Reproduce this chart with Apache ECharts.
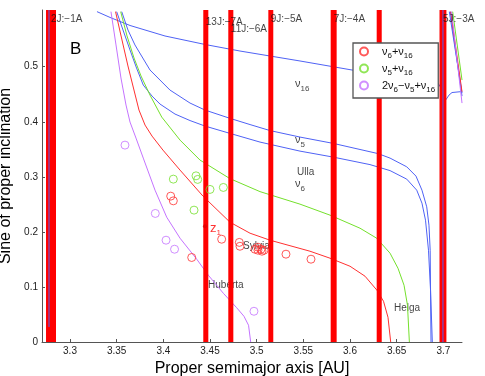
<!DOCTYPE html>
<html>
<head>
<meta charset="utf-8">
<title>Secular resonances</title>
<script src="https://cdn.jsdelivr.net/npm/echarts@6/dist/echarts.min.js"></script>
<style>
  html, body { margin: 0; padding: 0; background: #fff; }
  #mychart { width: 485px; height: 376px; }
</style>
</head>
<body>
<div id="mychart"></div>
<script>
// ---- data ----
var xTicks = [3.3, 3.35, 3.4, 3.45, 3.5, 3.55, 3.6, 3.65, 3.7];
var yTicks = [0, 0.1, 0.2, 0.3, 0.4, 0.5];
var xMin = 3.27, xMax = 3.72, yMax = 0.603;

// mean motion resonances: band edges [AU] and labels
var resLabels = ['2J:\u22121A', '13J:\u22127A', '11J:\u22126A', '9J:\u22125A', '7J:\u22124A', '', '5J:\u22123A'];
var resLo = [3.2743, 3.4428, 3.4696, 3.5125, 3.5793, 3.6286, 3.6959];
var resHi = [3.2850, 3.4482, 3.4750, 3.5178, 3.5857, 3.6340, 3.7033];
var resLabelY = [0.5867, 0.5813, 0.5673, 0.5867, 0.5867, 0, 0.5867];

// secular resonance curves [a, sin i]
var nu16Curve = [[3.3289, 0.600], [3.3429, 0.5895], [3.3643, 0.5749], [3.4018, 0.5558], [3.4446, 0.5404],
  [3.4821, 0.5285], [3.5464, 0.5104], [3.6021, 0.4940], [3.6536, 0.4804], [3.6943, 0.4704],
  [3.6975, 0.4613], [3.7007, 0.4467], [3.7029, 0.4404], [3.7061, 0.4485], [3.7093, 0.4531], [3.7200, 0.4549]];
var nu5Curve = [[3.3554, 0.600], [3.3621, 0.5667], [3.3696, 0.5395], [3.3857, 0.4940], [3.4071, 0.4576],
  [3.4286, 0.4340], [3.4446, 0.4213], [3.4714, 0.4062], [3.4929, 0.3949], [3.5143, 0.3840],
  [3.5464, 0.3722], [3.5821, 0.3607], [3.6300, 0.3422], [3.6429, 0.3340], [3.6608, 0.3182],
  [3.6707, 0.3013], [3.6771, 0.2758], [3.6822, 0.2455], [3.6846, 0.2122], [3.6859, 0.1667], [3.6868, 0]];
var nu6Curve = [[3.3500, 0.600], [3.3568, 0.5667], [3.3643, 0.5304], [3.3713, 0.4976], [3.3785, 0.4667],
  [3.3879, 0.4467], [3.3964, 0.4322], [3.4125, 0.4140], [3.4286, 0.4022], [3.4446, 0.3922],
  [3.4714, 0.3789], [3.5036, 0.3631], [3.5464, 0.3467], [3.5821, 0.3358], [3.6214, 0.3222],
  [3.6429, 0.3113], [3.6608, 0.2958], [3.6715, 0.2758], [3.6771, 0.2522], [3.6809, 0.2213],
  [3.6841, 0.1667], [3.6863, 0.0940], [3.6882, 0]];
var z1Curve = [[3.3488, 0.600], [3.3557, 0.5485], [3.3621, 0.5013], [3.3680, 0.4613], [3.3739, 0.4213],
  [3.3804, 0.3940], [3.3879, 0.3740], [3.3996, 0.3485], [3.4179, 0.3122], [3.4425, 0.2649],
  [3.4714, 0.2176], [3.4929, 0.1976], [3.5143, 0.1849], [3.5571, 0.1649], [3.5786, 0.1522],
  [3.6000, 0.1376], [3.6161, 0.1195], [3.6289, 0.0940], [3.6359, 0.0740], [3.6407, 0.0449], [3.6436, 0]];
var z2Curve = [[3.3543, 0.600], [3.3611, 0.5558], [3.3686, 0.5158], [3.3761, 0.4831], [3.3857, 0.4485],
  [3.3983, 0.4085], [3.4179, 0.3667], [3.4393, 0.3304], [3.4714, 0.2967], [3.5036, 0.2731],
  [3.5464, 0.2504], [3.5786, 0.2304], [3.6107, 0.2067], [3.6286, 0.1885], [3.6429, 0.1613],
  [3.6514, 0.1340], [3.6579, 0.1031], [3.6616, 0.0667], [3.6636, 0]];
var z3Curve = [[3.3439, 0.600], [3.3493, 0.5395], [3.3546, 0.4795], [3.3600, 0.4304], [3.3643, 0.3995],
  [3.3707, 0.3704], [3.3785, 0.3340], [3.3911, 0.2758], [3.4036, 0.2267], [3.4179, 0.1885],
  [3.4358, 0.1504], [3.4482, 0.1213], [3.4643, 0.0885], [3.4786, 0.0622], [3.4864, 0.0467],
  [3.4913, 0.0304], [3.4936, 0]];
// short pieces beyond the 5:3 resonance
var z1Right = [[3.7079, 0.600], [3.7200, 0.4545]];
var z2Right = [[3.7100, 0.600], [3.7200, 0.4758]];
var z3Right = [[3.7088, 0.600], [3.7200, 0.4340]];
var nuRightA = [[3.7064, 0.600], [3.7200, 0.4522]];
var nuRightB = [[3.7075, 0.600], [3.7200, 0.4467]];
// blue lines inside the 2:1 and 5:3 bands
var nuIn21 = [[3.2775, 0.603], [3.2775, 0.0273]];
var nuIn53 = [[3.6996, 0.603], [3.6996, 0]];

// asteroid proper elements
var z1Points = [[3.4079, 0.2649], [3.4107, 0.2564], [3.4625, 0.1867], [3.4304, 0.1535], [3.4814, 0.1809],
  [3.4821, 0.1739], [3.4982, 0.1685], [3.5014, 0.1667], [3.5046, 0.1685], [3.5079, 0.1667],
  [3.5014, 0.1722], [3.5057, 0.1649], [3.5314, 0.1595], [3.5582, 0.1504]];
var z2Points = [[3.4107, 0.2958], [3.4350, 0.3018], [3.4368, 0.2953], [3.4500, 0.2771], [3.4643, 0.2807],
  [3.4329, 0.2395]];
var z3Points = [[3.3589, 0.3576], [3.3914, 0.2335], [3.4029, 0.1849], [3.4120, 0.1685], [3.4971, 0.0558]];
var z1Dot = [[3.4446, 0.2104]];

// text annotations
var annText = ['{n|\u03bd}{s|16}', '{n|\u03bd}{s|5}', 'Ulla', '{n|\u03bd}{s|6}', '{r|z}{rs|1}', 'Sylvia', 'Huberta', 'Helga'];
var annA = [3.5411, 3.5411, 3.5432, 3.5411, 3.4500, 3.4854, 3.4479, 3.6471];
var annS = [0.4685, 0.3667, 0.3085, 0.2867, 0.2067, 0.1740, 0.1031, 0.0613];

var seriesNames = ['\u03bd6+\u03bd16', '\u03bd5+\u03bd16', '2\u03bd6\u2212\u03bd5+\u03bd16'];
var legendText = ['{n|\u03bd}{s|6}{n|+\u03bd}{s|16}', '{n|\u03bd}{s|5}{n|+\u03bd}{s|16}',
  '{n|2\u03bd}{s|6}{n|\u2212\u03bd}{s|5}{n|+\u03bd}{s|16}'];

// ---- style ----
var FONT = 'Liberation Sans, Arial, sans-serif';
var RED = '#ff3030', GREEN = '#74e02c', PURPLE = '#c473ff', BLUE = '#4f62f5';
var subRich = {
  n: { fontFamily: FONT, fontSize: 11, color: '#111' },
  s: { fontFamily: FONT, fontSize: 8, color: '#111', padding: [9, 0, 0, 0] },
  r: { fontFamily: FONT, fontSize: 13, color: '#ff0000' },
  rs: { fontFamily: FONT, fontSize: 8, color: '#ff0000', padding: [10, 0, 0, 0] }
};

// plain polyline, no smoothing
function curve(data, color) {
  return {
    type: 'line', data: data, showSymbol: false, z: 2, silent: true,
    lineStyle: { color: color, width: 1 }, itemStyle: { color: color }
  };
}

// open circles, thin outline
function markers(name, data, color) {
  return {
    name: name, type: 'scatter', data: data, symbol: 'circle', symbolSize: 8, z: 5,
    itemStyle: { color: 'rgba(255,255,255,0)', borderColor: color, borderWidth: 1 }
  };
}

// red band for each resonance
function renderBand(params, api) {
  var p0 = api.coord([api.value(0), yMax]);
  var p1 = api.coord([api.value(1), 0]);
  return {
    type: 'rect',
    shape: { x: p0[0], y: p0[1], width: p1[0] - p0[0], height: p1[1] - p0[1] },
    style: { fill: '#ff0000' }
  };
}

var bandData = resLo.map(function (lo, i) { return [lo, resHi[i]]; });
var bandLabelData = [];
resLabels.forEach(function (t, i) {
  if (t) bandLabelData.push({ value: [(resLo[i] + resHi[i]) / 2, resLabelY[i]], label: { formatter: t } });
});
var annData = annText.map(function (t, i) {
  return { value: [annA[i], annS[i]], label: { formatter: t } };
});

var chart = echarts.init(document.getElementById('mychart'));
chart.setOption({
  animation: false,
  backgroundColor: '#fff',
  grid: { left: 42, right: 23, top: 10, bottom: 34, outerBoundsMode: 'none' },
  xAxis: {
    type: 'value', min: xMin, max: xMax,
    name: 'Proper semimajor axis [AU]', nameLocation: 'middle', nameGap: 19,
    nameTextStyle: { fontFamily: FONT, fontSize: 16, color: '#000' },
    axisLine: { show: true, lineStyle: { color: '#555', width: 1 } },
    axisTick: { show: true, inside: true, length: 3, customValues: xTicks, lineStyle: { color: '#555' } },
    axisLabel: {
      customValues: xTicks, margin: 4, fontFamily: FONT, fontSize: 10, color: '#222',
      formatter: function (v) { return String(+v.toFixed(2)); }
    },
    splitLine: { show: false }
  },
  yAxis: {
    type: 'value', min: 0, max: yMax,
    name: 'Sine of proper inclination', nameLocation: 'middle', nameGap: 22,
    nameTextStyle: { fontFamily: FONT, fontSize: 16, color: '#000' },
    axisLine: { show: true, lineStyle: { color: '#555', width: 1 } },
    axisTick: { show: true, inside: true, length: 3, customValues: yTicks, lineStyle: { color: '#555' } },
    axisLabel: {
      customValues: yTicks, margin: 4, fontFamily: FONT, fontSize: 10, color: '#222',
      formatter: function (v) { return String(+v.toFixed(2)); }
    },
    splitLine: { show: false }
  },
  legend: {
    data: seriesNames, orient: 'vertical', left: 353, top: 43,
    padding: [3, 3, 4, 6], itemGap: 3, itemWidth: 26, itemHeight: 8,
    backgroundColor: '#fff', borderColor: '#555', borderWidth: 1.3, z: 10,
    selectedMode: false,
    formatter: function (name) { return legendText[seriesNames.indexOf(name)]; },
    textStyle: { fontFamily: FONT, fontSize: 10, rich: subRich }
  },
  graphic: [{
    type: 'text', left: 70, top: 41, z: 10,
    style: { text: 'B', fontFamily: FONT, fontSize: 17, fill: '#000' }
  }],
  series: [
    // annotation texts, under everything else
    {
      type: 'scatter', data: annData, symbolSize: 0, z: 1, silent: true,
      label: { show: true, position: 'right', distance: 0, fontFamily: FONT, fontSize: 10, color: '#111', rich: subRich }
    },
    curve(nu16Curve, BLUE), curve(nu5Curve, BLUE), curve(nu6Curve, BLUE),
    curve(z1Curve, RED), curve(z2Curve, GREEN), curve(z3Curve, PURPLE),
    curve(nuRightA, BLUE), curve(nuRightB, BLUE),
    curve(z1Right, RED), curve(z2Right, GREEN), curve(z3Right, PURPLE),
    {
      type: 'custom', data: bandData, renderItem: renderBand, z: 3, silent: true,
      encode: { x: [0, 1] }
    },
    Object.assign(curve(nuIn21, BLUE), { z: 4 }),
    Object.assign(curve(nuIn53, BLUE), { z: 4 }),
    markers(seriesNames[0], z1Points, RED),
    markers(seriesNames[1], z2Points, GREEN),
    markers(seriesNames[2], z3Points, PURPLE),
    {
      type: 'scatter', data: z1Dot, symbol: 'circle', symbolSize: 4, z: 5,
      itemStyle: { color: '#e00000' }
    },
    // resonance labels on top of the bands
    {
      type: 'scatter', data: bandLabelData, symbolSize: 0, z: 6, silent: true,
      label: { show: true, position: 'right', distance: 0, fontFamily: FONT, fontSize: 10, color: '#111' }
    }
  ]
});
</script>
</body>
</html>
